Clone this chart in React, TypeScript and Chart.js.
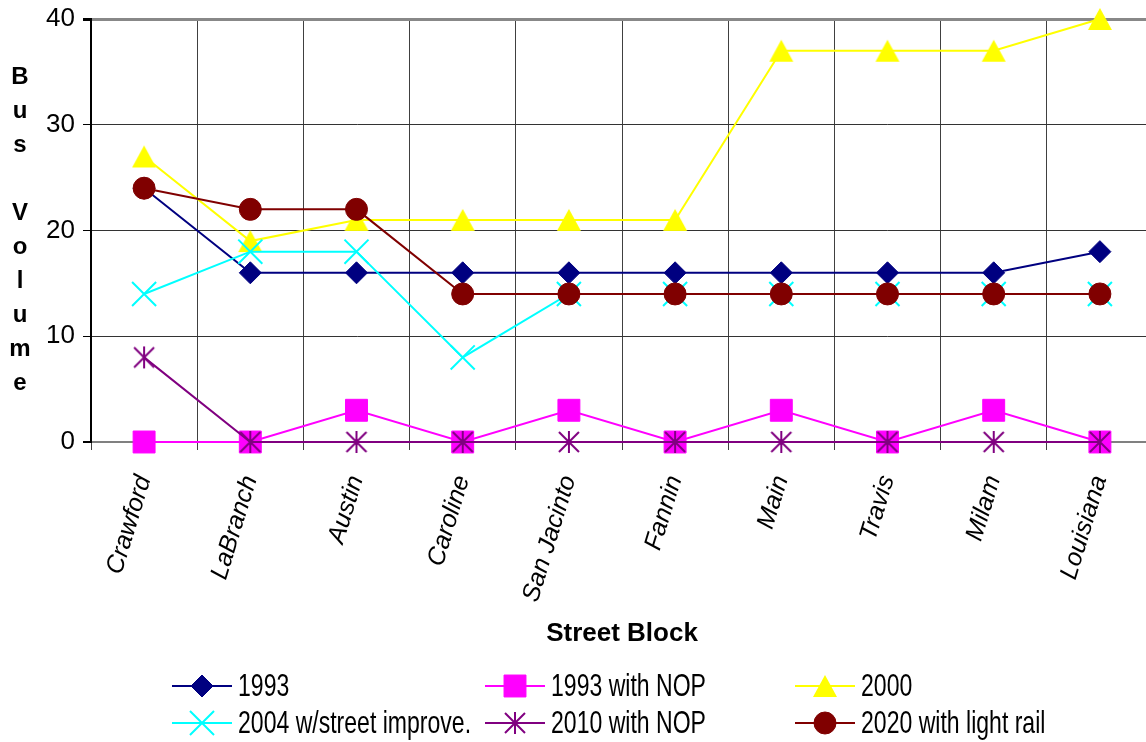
import React, { useEffect, useRef } from 'react';
import { Chart, registerables } from 'chart.js';
import { drawPoint } from 'chart.js/helpers';

Chart.register(...registerables);

const FONT = "'Liberation Sans', Arial, sans-serif";

const categories = ['Crawford', 'LaBranch', 'Austin', 'Caroline', 'San Jacinto', 'Fannin', 'Main', 'Travis', 'Milam', 'Louisiana'];
const seriesNames = ['1993', '1993 with NOP', '2000', '2004 w/street improve.', '2010 with NOP', '2020 with light rail'];
const v1993 = [24, 16, 16, 16, 16, 16, 16, 16, 16, 18];
const v1993NOP = [0, 0, 3, 0, 3, 0, 3, 0, 3, 0];
const v2000 = [27, 19, 21, 21, 21, 21, 37, 37, 37, 40];
const v2004 = [14, 18, 18, 8, 14, 14, 14, 14, 14, 14];
const v2010NOP = [8, 0, 0, 0, 0, 0, 0, 0, 0, 0];
const v2020 = [24, 22, 22, 14, 14, 14, 14, 14, 14, 14];
const yMin = 0;
const yMax = 40;
const yStep = 10;
const yTitle = 'Bus Volume';
const xTitle = 'Street Block';

function makeStar(color: string) {
  const c = document.createElement('canvas');
  c.width = 24; c.height = 24;
  const g = c.getContext('2d')!;
  g.strokeStyle = color; g.lineWidth = 2;
  g.beginPath();
  g.moveTo(12, 1); g.lineTo(12, 23);
  g.moveTo(2, 2); g.lineTo(22, 22);
  g.moveTo(22, 2); g.lineTo(2, 22);
  g.stroke();
  return c;
}
function makeTriangle(color: string) {
  const c = document.createElement('canvas');
  c.width = 26; c.height = 24;
  const g = c.getContext('2d')!;
  g.fillStyle = color;
  g.beginPath();
  g.moveTo(13, 1); g.lineTo(25, 23); g.lineTo(1, 23); g.closePath();
  g.fill();
  return c;
}

export default function App() {
  const ref = useRef<HTMLCanvasElement>(null);
  useEffect(() => {
    const star = makeStar('#800080');
    const tri = makeTriangle('#FFFF00');
    const styles = [
      { color: '#000080', pointStyle: 'rectRot', radius: 11, pbw: 1 },
      { color: '#FF00FF', pointStyle: 'rect', radius: 15.5, pbw: 1 },
      { color: '#FFFF00', pointStyle: tri, radius: 12, pbw: 0 },
      { color: '#00FFFF', pointStyle: 'crossRot', radius: 17, pbw: 2 },
      { color: '#800080', pointStyle: star, radius: 12, pbw: 0 },
      { color: '#800000', pointStyle: 'circle', radius: 11, pbw: 1 },
    ];
    const values = [v1993, v1993NOP, v2000, v2004, v2010NOP, v2020];
    const datasets = values.map((d, i) => ({
      label: seriesNames[i],
      data: d,
      borderColor: styles[i].color,
      backgroundColor: styles[i].color,
      borderWidth: 2,
      pointStyle: styles[i].pointStyle as any,
      pointRadius: styles[i].radius,
      pointHoverRadius: styles[i].radius,
      pointBackgroundColor: styles[i].color,
      pointBorderColor: styles[i].color,
      pointBorderWidth: styles[i].pbw,
      tension: 0,
      order: values.length - i,
      clip: false as any,
    }));

    const decor = {
      id: 'decor',
      afterDraw(chart: any) {
        const ctx = chart.ctx;
        const ca = chart.chartArea;
        ctx.save();
        ctx.fillStyle = '#000';
        ctx.font = `bold 24px ${FONT}`;
        ctx.textAlign = 'center';
        ctx.textBaseline = 'middle';
        const letters = yTitle.split('');
        const sp = 34;
        const cy = (ca.top + ca.bottom) / 2;
        letters.forEach((ch, k) => {
          const y = cy + (k - (letters.length - 1) / 2) * sp;
          if (ch !== ' ') ctx.fillText(ch, 20, y);
        });
        ctx.font = `bold 26px ${FONT}`;
        ctx.fillText(xTitle, (ca.left + ca.right) / 2, 634);
        const cols = [172, 485, 795];
        const rows = [686, 723];
        const lineLen = 60;
        chart.data.datasets.forEach((ds: any, i: number) => {
          const x0 = cols[i % 3];
          const y0 = rows[Math.floor(i / 3)];
          ctx.strokeStyle = ds.borderColor;
          ctx.lineWidth = 2;
          ctx.beginPath();
          ctx.moveTo(x0, y0); ctx.lineTo(x0 + lineLen, y0);
          ctx.stroke();
          ctx.fillStyle = ds.pointBackgroundColor;
          ctx.strokeStyle = ds.pointBorderColor;
          ctx.lineWidth = ds.pointBorderWidth || 1;
          drawPoint(ctx, { pointStyle: ds.pointStyle, radius: ds.pointRadius, borderWidth: ds.pointBorderWidth, rotation: 0 } as any, x0 + lineLen / 2, y0);
          ctx.save();
          ctx.fillStyle = '#000';
          ctx.font = `32px ${FONT}`;
          ctx.textAlign = 'left';
          ctx.textBaseline = 'middle';
          ctx.translate(x0 + lineLen + 6, y0 + 1);
          ctx.scale(0.72, 1);
          ctx.fillText(ds.label, 0, 0);
          ctx.restore();
        });
        ctx.restore();
      },
    };

    const chart = new Chart(ref.current!, {
      type: 'line',
      data: { labels: categories, datasets: datasets as any },
      options: {
        responsive: false,
        animation: false,
        devicePixelRatio: 1,
        layout: { padding: { left: 0, right: 7, top: 19, bottom: 0 } },
        plugins: { legend: { display: false }, tooltip: { enabled: false }, title: { display: false } },
        scales: {
          x: {
            type: 'category',
            offset: true,
            grid: { offset: true, color: '#404040', lineWidth: 1, drawTicks: true, tickLength: 8, tickColor: '#404040' },
            border: { display: true, color: '#808080', width: 2 },
            ticks: {
              autoSkip: false, minRotation: 73, maxRotation: 73, padding: 22, color: '#000',
              font: { family: FONT, size: 25, style: 'italic' },
            },
            afterFit: (s: any) => { s.height = 300; s.paddingLeft = 0; s.paddingRight = 0; },
          },
          y: {
            min: yMin, max: yMax,
            ticks: { stepSize: yStep, padding: 8, color: '#000', font: { family: FONT, size: 26 } },
            grid: {
              color: (c: any) => (c.tick && (c.tick.value === yMax || c.tick.value === yMin) ? '#888888' : '#333333'),
              lineWidth: (c: any) => (c.tick && c.tick.value === yMax ? 3 : c.tick && c.tick.value === yMin ? 2 : 1),
              tickLength: 8,
              tickColor: '#000',
            },
            border: { display: true, color: '#000', width: 2 },
            afterFit: (s: any) => { s.width = 91; s.paddingTop = 0; s.paddingBottom = 0; },
          },
        },
      },
      plugins: [decor],
    } as any);
    return () => chart.destroy();
  }, []);
  return (
    <div style={{ position: 'fixed', left: 0, top: 0, width: 1146, height: 742, overflow: 'hidden', background: '#fff' }}>
      <canvas ref={ref} width={1172} height={742} style={{ display: 'block', width: 1172, height: 742 }} />
    </div>
  );
}
